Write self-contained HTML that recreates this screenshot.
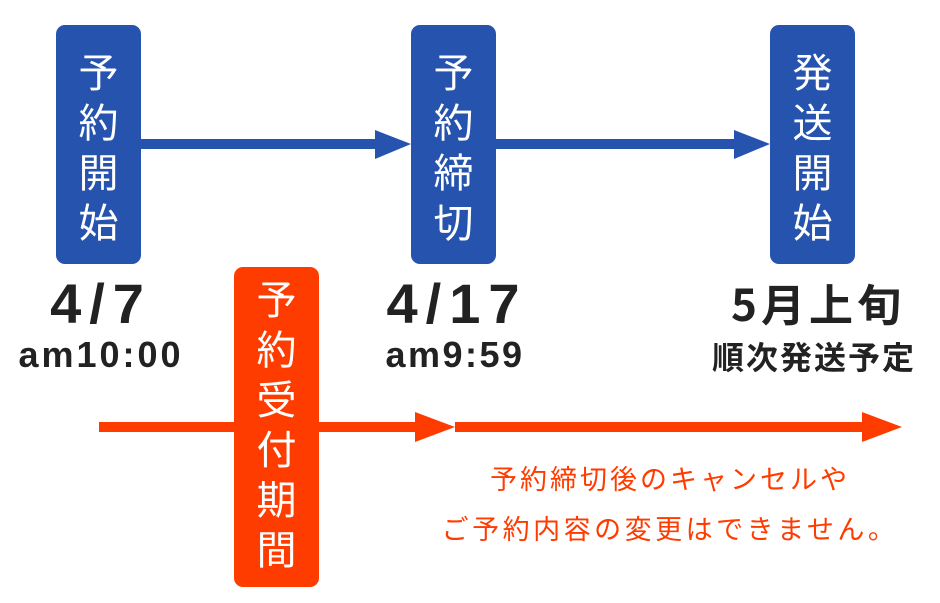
<!DOCTYPE html>
<html><head><meta charset="utf-8"><style>
body{margin:0;width:940px;height:603px;background:#fff;position:relative;overflow:hidden;font-family:"Liberation Sans","Noto Sans CJK JP",sans-serif}
.box{position:absolute;border-radius:9px;color:#fff;text-align:center;font-family:"Noto Sans CJK JP",sans-serif;font-size:40px;line-height:50px;font-weight:normal}
.b{background:#2553ad;top:25px;width:85px;height:239px}
.t{position:absolute;text-align:center;color:#222;font-weight:bold;white-space:nowrap}
.r{position:absolute;color:#ff3c00;font-family:"Noto Sans CJK JP",sans-serif;font-size:27px;text-align:center;width:500px;left:420px;font-weight:normal}
</style></head><body>
<svg width="940" height="603" style="position:absolute;left:0;top:0">
<rect x="141" y="139" width="236" height="10" fill="#2553ad"/>
<polygon points="375,130 411,144 375,159" fill="#2553ad"/>
<rect x="496" y="139" width="240" height="10" fill="#2553ad"/>
<polygon points="734,130 770,144 734,159" fill="#2553ad"/>
<rect x="99" y="422" width="318" height="10" fill="#ff3c00"/>
<polygon points="415,412 455,427 415,442" fill="#ff3c00"/>
<rect x="455" y="422" width="409" height="10" fill="#ff3c00"/>
<polygon points="862,412 902,427 862,442" fill="#ff3c00"/>
</svg>
<div class="box b" style="left:56px;padding-top:20px;height:219px">予<br>約<br>開<br>始</div>
<div class="box b" style="left:411px;padding-top:20px;height:219px">予<br>約<br>締<br>切</div>
<div class="box b" style="left:770px;padding-top:20px;height:219px">発<br>送<br>開<br>始</div>
<div class="box" style="background:#ff3c00;left:234px;top:267px;width:85px;height:315px;padding-top:5px">予<br>約<br>受<br>付<br>期<br>間</div>
<div class="t" style="left:0;width:202px;top:271px;font-size:56px;letter-spacing:8px">4/7</div>
<div class="t" style="left:0;width:202px;top:334px;font-size:36px;letter-spacing:3px">am10:00</div>
<div class="t" style="left:352px;width:210px;top:271px;font-size:56px;letter-spacing:8px">4/17</div>
<div class="t" style="left:350px;width:210px;top:334px;font-size:36px;letter-spacing:2.5px">am9:59</div>
<div class="t" style="left:700px;width:236px;top:274px;font-size:44px;letter-spacing:4px;font-family:'Noto Sans CJK JP',sans-serif;line-height:56px">5月上旬</div>
<div class="t" style="left:700px;width:228px;top:334px;font-size:32px;letter-spacing:2px;font-family:'Noto Sans CJK JP',sans-serif;line-height:44px">順次発送予定</div>
<div class="r" style="top:458px;line-height:40px;letter-spacing:3px">予約締切後のキャンセルや</div>
<div class="r" style="top:508px;line-height:40px;letter-spacing:3.5px">ご予約内容の変更はできません。</div>
</body></html>
